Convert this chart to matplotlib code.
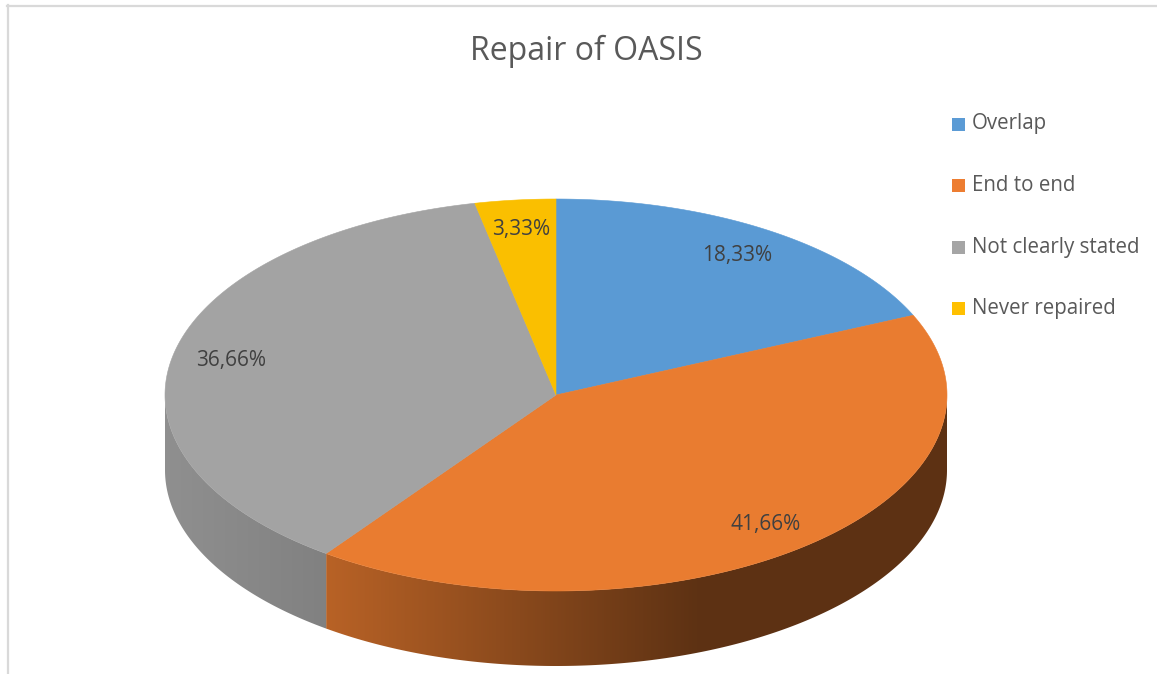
"""
3D-style pie chart: Repair of OASIS.
Writes out.png (1157x674).
"""
import numpy as np
import matplotlib
matplotlib.use("Agg")
import matplotlib.pyplot as plt
from matplotlib.patches import Polygon, Rectangle
from matplotlib.lines import Line2D
from matplotlib.colors import to_rgb

plt.rcParams["font.family"] = ["Open Sans", "DejaVu Sans"]

title = "Repair of OASIS"
categories = ["Overlap", "End to end", "Not clearly stated", "Never repaired"]
shares = [18.33, 41.66, 36.66, 3.33]
share_labels = ["18,33%", "41,66%", "36,66%", "3,33%"]
top_colors = ["#5A9AD4", "#E97C30", "#A3A3A3", "#FABF00"]
legend_colors = ["#5B9BD5", "#ED7D31", "#A5A5A5", "#FFC000"]

W, H = 1157, 674
fig = plt.figure(figsize=(W / 100, H / 100), dpi=100)
ax = fig.add_axes([0, 0, 1, 1])

# ellipse geometry of the pie top and the side depth (pixels)
cx, cy, rx, ry, depth = 556, 395, 391, 196, 75


def rim(deg, dz=0.0):
    t = np.radians(deg)
    return cx + rx * np.cos(t), cy - ry * np.sin(t) + dz


def shade(x):
    # lighting of the side wall, brighter on the left
    return np.interp(x, [165, 327, 700, 947], [0.88, 0.79, 0.40, 0.40])


vals = np.array(shares, dtype=float)
cum = np.concatenate([[0], np.cumsum(vals)]) / vals.sum() * 360.0
starts = 90 - cum[:-1]
ends = 90 - cum[1:]

# side walls (front half of the disc only), gradient clipped to the wall shape
gx = np.linspace(cx - rx - 5, cx + rx + 5, 800)
for a0, a1, col in zip(starts, ends, top_colors):
    base = np.array(to_rgb(col))
    grad = np.clip(base[None, None, :] * shade(gx)[None, :, None], 0, 1)
    for k in (0, -360):
        lo = max(a1, -180 + k)
        hi = min(a0, 0 + k)
        if hi <= lo:
            continue
        angs = np.linspace(lo, hi, int((hi - lo) * 3) + 2)
        tx, ty = rim(angs)
        bx, by = rim(angs[::-1], depth)
        wall = Polygon(list(zip(tx, ty)) + list(zip(bx, by)), closed=True,
                       facecolor="none", edgecolor="none", transform=ax.transData)
        ax.add_patch(wall)
        im = ax.imshow(grad, extent=(gx[0], gx[-1], cy + ry + depth + 5, cy - 5),
                       aspect="auto", interpolation="bilinear", zorder=1)
        im.set_clip_path(wall)

# top face wedges
for a0, a1, col in zip(starts, ends, top_colors):
    angs = np.linspace(a0, a1, max(int(abs(a0 - a1) * 2), 2))
    xs, ys = rim(angs)
    pts = [(cx, cy)] + list(zip(xs, ys))
    ax.add_patch(Polygon(pts, closed=True, facecolor=col, edgecolor=col,
                         linewidth=0.4, zorder=2))

# data labels
for a0, a1, lab in zip(starts, ends, share_labels):
    lx, ly = rim((a0 + a1) / 2)
    lx = cx + (lx - cx) * 0.85
    ly = cy + (ly - cy) * 0.85
    ax.text(lx, ly, lab, ha="center", va="center", fontsize=15,
            color="#404040", zorder=3)

ax.text(586, 51, title, ha="center", va="center", fontsize=23, color="#595959")

# legend
for i, (name, col) in enumerate(zip(categories, legend_colors)):
    yy = 124 + i * 61.5
    ax.add_patch(Rectangle((952, yy - 6.5), 13, 13, facecolor=col, edgecolor="none"))
    ax.text(972, yy, name, ha="left", va="center", fontsize=14.8, color="#595959")

ax.set_xlim(0, W)
ax.set_ylim(H, 0)
ax.axis("off")

# chart frame (top and left edges visible)
fig.add_artist(Line2D([7 / W, 1.0], [1 - 5.5 / H, 1 - 5.5 / H], color="#D9D9D9", lw=1.6))
fig.add_artist(Line2D([7.5 / W, 7.5 / W], [0.0, 1 - 5 / H], color="#D9D9D9", lw=1.6))

fig.savefig("out.png", dpi=100)
